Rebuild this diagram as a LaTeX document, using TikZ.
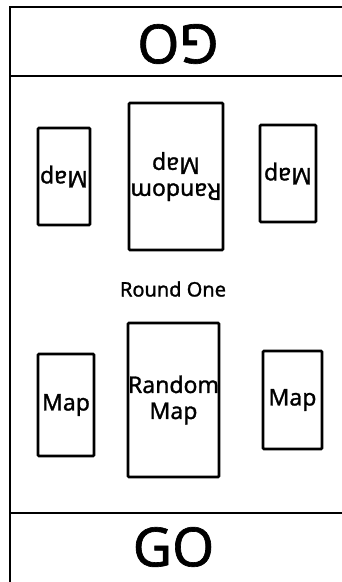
\documentclass[tikz,border=0pt]{standalone}
\usepackage{fontspec}
\setmainfont{Noto Sans}[FakeBold=1.2]
\begin{document}
\begin{tikzpicture}[x=1pt,y=-1pt,
  frame/.style={line width=2.8pt,line cap=rect},
  mapbox/.style={draw,line width=2.6pt,rounded corners=1pt,inner sep=0pt,font=\fontsize{23}{25}\selectfont,align=center},
  golabel/.style={font=\fontsize{54}{58}\selectfont,inner sep=0pt}]
\useasboundingbox (0,0) rectangle (341,582);
\fill[white] (0,0) rectangle (341,582);
% outer frame
\coordinate (tl) at (10,7);
\coordinate (tr) at (341,7);
\coordinate (bl) at (10,582);
\coordinate (l1) at (10,76);
\coordinate (r1) at (341,76);
\coordinate (l2) at (10,513);
\coordinate (r2) at (341,513);
\draw[frame] (tr) -- (tl) -- (bl);
\draw[frame] (l1) -- (r1);
\draw[frame] (l2) -- (r2);
% GO labels
\node[golabel,rotate=180] (gotop) at (178,44) {GO};
\node[golabel] (gobot) at (173.5,547) {GO};
% top row (upside down)
\node[mapbox,minimum width=52pt,minimum height=97pt,rotate=180] (m1) at (64,176.5) {Map};
\node[mapbox,minimum width=94pt,minimum height=147pt,rotate=180] (m2) at (176,176.5) {Random\\[1pt]Map};
\node[mapbox,minimum width=56pt,minimum height=97pt,rotate=180] (m3) at (288,173.5) {Map};
% round label
\node[font=\fontsize{20}{22}\selectfont,inner sep=0pt] (round) at (173,289) {Round One};
% bottom row
\node[mapbox,minimum width=56pt,minimum height=102pt] (m4) at (66,405) {Map};
\node[mapbox,minimum width=91pt,minimum height=154pt] (m5) at (173.5,400) {Random\\[1pt]Map};
\node[mapbox,minimum width=59pt,minimum height=98pt] (m6) at (292.5,400) {Map};
\end{tikzpicture}
\end{document}
